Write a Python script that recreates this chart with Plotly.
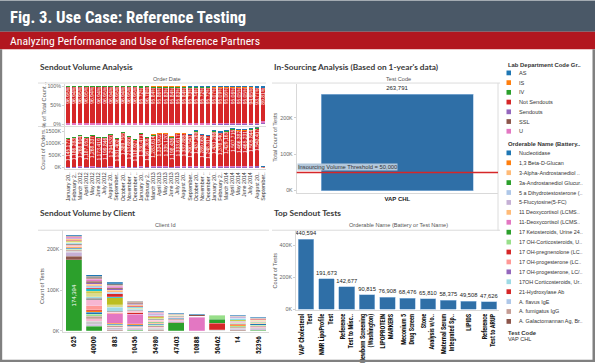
import plotly.graph_objects as go

W, H = 595, 364


def px(x):
    return x / W


def py(y):
    return 1 - y / H


SANS = "Liberation Sans, Arial, sans-serif"
NARROW = "Roboto Condensed, Open Sans Condensed, Liberation Sans Narrow, DejaVu Sans Condensed, sans-serif"
BANNER = "Roboto Condensed, Liberation Sans Narrow, Roboto, sans-serif"
HEAD = "Lato, Open Sans, sans-serif"

# ---------------- Sendout Volume Analysis (by month) ----------------
month_keys = ["2012-01", "2012-02", "2012-03", "2012-04", "2012-05", "2012-06", "2012-07", "2012-08",
              "2012-09", "2012-10", "2012-11", "2012-12", "2013-01", "2013-02", "2013-03", "2013-04",
              "2013-05", "2013-06", "2013-07", "2013-08", "2013-09", "2013-10", "2013-11", "2013-12",
              "2014-01", "2014-02", "2014-03", "2014-04", "2014-05", "2014-06", "2014-07", "2014-08",
              "2014-09"]
month_labels = ["January 20..", "February 2..", "March 2012", "April 2012", "May 2012", "June 2012",
                "July 2012", "August 20..", "September..", "October 20..", "November ..", "December ..",
                "January 20..", "February 2..", "March 2013", "April 2013", "May 2013", "June 2013",
                "July 2013", "August 20..", "September..", "October 20..", "November ..", "December ..",
                "January 20..", "February 2..", "March 2014", "April 2014", "May 2014", "June 2014",
                "July 2014", "August 20..", "September.."]

lab_codes = ["AS", "IS", "IV", "Not Sendouts", "Sendouts", "SSL", "U"]
lab_colors = ["#1f77b4", "#ff7f0e", "#2ca02c", "#d62728", "#9467bd", "#8c564b", "#e377c2"]

orders_sendouts = [21500, 22300, 23800, 22400, 23900, 22100, 22500, 24300, 21300, 26100, 22800, 21000,
                   25300, 22000, 24300, 25300, 25300, 22800, 25300, 25300, 24600, 27300, 24600, 23800,
                   35000, 33700, 35000, 37000, 36000, 36000, 40000, 48000, 1500]
orders_u = [11000, 11400, 12200, 11400, 12200, 11300, 11600, 12500, 10900, 13400, 11700, 10800,
            13000, 11300, 12500, 13000, 13000, 11700, 13000, 13000, 12600, 14000, 12600, 12200,
            14000, 13500, 14000, 14800, 14400, 14400, 14800, 15300, 600]
orders_not_sendouts = [1145177, 1186283, 1268914, 1187052, 1268337, 1173419, 1199846, 1294530, 1131402,
                       1389755, 1213680, 1118927, 1330471, 1167305, 1283614, 1334902, 1335120, 1198436,
                       1333617, 1332885, 1290541, 1437269, 1289063, 1248317, 1431286, 1378540, 1429163,
                       1507715, 1466382, 1465231, 1505844, 1543417, 25108]
orders_ssl = [1200, 1300, 1300, 1200, 1300, 1200, 1200, 1300, 1100, 1400, 1200, 1100, 1400, 1200, 1300,
              1400, 1400, 1200, 1400, 1400, 1300, 1500, 1300, 1300, 1500, 1400, 1500, 1600, 1500, 1500,
              1600, 1600, 50]
orders_iv = [2300, 2400, 2600, 2400, 2600, 2400, 2500, 2700, 2300, 2900, 2500, 2300, 19800, 4300, 14600,
             9000, 8900, 8100, 9000, 9000, 8700, 9700, 8700, 8400, 9700, 9300, 9700, 10200, 10000, 10000,
             10200, 10600, 200]
orders_is = [0, 0, 0, 0, 0, 0, 0, 0, 0, 0, 0, 0, 0, 0, 3000, 9000, 9500, 8200, 9300, 9200, 8900, 10000,
             8900, 8600, 10000, 9500, 10000, 10500, 10300, 10300, 10500, 11000, 200]
orders_as = [0, 0, 0, 0, 0, 0, 0, 0, 0, 0, 0, 0, 0, 0, 0, 0, 0, 0, 0, 0, 1500, 1500, 1500, 1500,
             4000, 3800, 4000, 4200, 4100, 4100, 8000, 16000, 300]

# ---------------- In-Sourcing ----------------
insource_codes = ["VAP CHL"]
insource_counts = [263791]
insource_threshold = 50000

# ---------------- Sendout Volume by Client ----------------
client_ids = ["625", "40000", "883", "10456", "54980", "47403", "10888", "50462", "14", "52396"]
client_seg_names = ["17 Ketosteroids, Urine 24h", "A. Galactomannan Ag", "5-Flucytosine(5-FC)",
                    "Lipid Panel Misc", "Allergen Panel", "A. fumigatus IgG", "17 OH-Corticosteroids",
                    "Nucleotidase", "1,3 Beta-D-Glucan", "11-Deoxycortisol (LCMS)", "21-Hydroxylase Ab",
                    "3a-Androstanediol Glucuronide", "17 OH-Corticosteroids, Urine", "17 OH-progesterone (LC)",
                    "Pain Mgmt Screen", "Vitamin Panel", "17OH Corticosteroids, Urine", "Hormone Panel",
                    "Drug Screen Misc", "Cytogenetics", "17 OH-pregnenolone (LC)", "A. flavus IgE",
                    "11 Deoxycortisol (LCMS)", "17 OH-progesterone, LC/MS", "Serology Misc", "Genetic Misc",
                    "Stone Analysis", "Toxicology Misc", "Reference Misc"]
client_seg_colors = ["#2ca02c", "#8c564b", "#c5b0d5", "#c7c7c7", "#f7b6d2", "#c49c94", "#98df8a",
                     "#1f77b4", "#ff7f0e", "#e377c2", "#d62728", "#2ca02c", "#98df8a", "#ff9896",
                     "#f7b6d2", "#7f7f7f", "#9edae5", "#dbdb8d", "#bcbd22", "#17becf", "#d62728",
                     "#aec7e8", "#ffbb78", "#9467bd", "#8c564b", "#e377c2", "#c49c94", "#7f7f7f", "#1f77b4"]
# thousands of tests, one row per series (bottom to top), one column per client
client_seg_values = [
    [174.394, 11, 0, 2, 0, 20, 0, 0, 0, 2],
    [8, 2, 2, 1, 1, 1, 0, 0, 1, 1],
    [10, 3, 2, 2, 2, 2, 0, 0, 3, 2],
    [2, 7, 3, 2, 3, 2, 0, 1, 2, 3],
    [2, 6, 2, 2, 3, 2, 0, 2, 2, 2],
    [2, 7, 3, 2, 3, 2, 0, 0, 2, 2],
    [2, 5, 2, 2, 2, 1, 0, 0, 2, 2],
    [2, 4, 2, 2, 2, 1, 0, 0, 1, 3],
    [2, 4, 2, 2, 2, 1, 0, 0, 2, 2],
    [1, 0, 24, 24, 0, 0, 33, 0, 0, 0],
    [2, 3, 0, 4, 2, 1, 3, 15, 1, 1],
    [0, 0, 0, 0, 1, 0, 0, 10, 1, 1],
    [0, 0, 0, 0, 1, 0, 0, 10, 1, 0],
    [2, 10, 2, 2, 2, 2, 0, 1, 2, 2],
    [2, 14, 2, 2, 2, 0, 0, 0, 2, 0],
    [2, 4, 2, 2, 2, 1, 0, 0, 1, 2],
    [2, 3, 10, 2, 2, 1, 0, 0, 1, 0],
    [2, 10, 6, 2, 2, 1, 0, 0, 1, 1],
    [2, 4, 17, 2, 2, 1, 0, 0, 2, 1],
    [1, 6, 2, 1, 1, 0, 0, 0, 1, 0],
    [1, 2, 8, 2, 1, 0, 0, 0, 1, 1],
    [2, 5, 4, 2, 2, 1, 0, 0, 2, 1],
    [2, 4, 5, 2, 2, 0, 0, 0, 1, 1],
    [2, 4, 3, 1, 1, 0, 0, 0, 1, 0],
    [1, 4, 3, 2, 1, 1, 3, 0, 1, 1],
    [2, 4, 3, 2, 1, 0, 1, 0, 1, 0],
    [2, 4, 3, 2, 2, 1, 0, 0, 1, 1],
    [1, 4, 3, 2, 2, 0, 0, 0, 1, 0],
    [2, 3, 4, 1, 1, 1, 1, 1, 1, 1],
]

# ---------------- Top Sendout Tests ----------------
top_tests = ["VAP Cholesterol<br>Test", "NMR LipoProfile<br>Test", "Reference<br>Test to Misc..",
             "Newborn Screening<br>(Washington)", "LIPOPROTEIN<br>MARKERS", "Meconium 5<br>Drug Screen",
             "Stone<br>Analysis w/o..", "Maternal Serum<br>Integrated Sp..", "LIPIDS",
             "Reference<br>Test to ARUP"]
top_counts = [440594, 191673, 142677, 90815, 76908, 68476, 65810, 58375, 49508, 47626]

# ---------------- Legend contents ----------------
orderable_legend_names = ["Nucleotidase", "1,3 Beta-D-Glucan", "3-Alpha-Androstanediol ..",
                          "3a-Androstanediol Glucur..", "5 a Dihydrotestosterone (..", "5-Flucytosine(5-FC)",
                          "11 Deoxycortisol (LCMS..", "11-Deoxycortisol (LCMS..", "17 Ketosteroids, Urine 24..",
                          "17 OH-Corticosteroids, U..", "17 OH-pregnenolone (LC..", "17 OH-progesterone (LC..",
                          "17 OH-progesterone, LC/..", "17OH Corticosteroids, Ur..", "21-Hydroxylase Ab",
                          "A. flavus IgE", "A. fumigatus IgG", "A. Galactomannan Ag, Br.."]
orderable_legend_colors = ["#1f77b4", "#ff7f0e", "#ffbb78", "#2ca02c", "#aec7e8", "#c5b0d5", "#ffbb78",
                           "#e377c2", "#2ca02c", "#98df8a", "#d62728", "#ff9896", "#9467bd", "#9edae5",
                           "#d62728", "#aec7e8", "#c49c94", "#8c564b"]

BLUE = "#2f6fa7"

fig = go.Figure()

# ---- Sendout Volume Analysis: stacked by lab department code ----
stack = [("Sendouts", orders_sendouts), ("U", orders_u), ("Not Sendouts", orders_not_sendouts),
         ("SSL", orders_ssl), ("IV", orders_iv), ("IS", orders_is), ("AS", orders_as)]
color_of = dict(zip(lab_codes, lab_colors))
totals = [sum(v) for v in zip(*[s[1] for s in stack])]
for name, vals in stack:
    pct = [v / t for v, t in zip(vals, totals)]
    is_main = name == "Not Sendouts"
    fig.add_trace(go.Bar(
        x=month_keys, y=pct, name=name, xaxis="x", yaxis="y", width=0.74,
        marker=dict(color=color_of[name], line=dict(width=0)),
        text=[f"{p * 100:.2f}%" for p in pct] if is_main else None,
        textposition="inside" if is_main else "none", textangle=-90, insidetextanchor="end",
        constraintext="none", insidetextfont=dict(family=SANS, size=5, color="white"),
        showlegend=False))
    fig.add_trace(go.Bar(
        x=month_keys, y=vals, name=name, xaxis="x2", yaxis="y2", width=0.74,
        marker=dict(color=color_of[name], line=dict(width=0)),
        text=[f"{v:,}" for v in vals] if is_main else None,
        textposition="inside" if is_main else "none", textangle=-90, insidetextanchor="end",
        constraintext="none", insidetextfont=dict(family=SANS, size=5, color="white"),
        showlegend=False))

# ---- In-Sourcing ----
fig.add_trace(go.Bar(
    x=insource_codes, y=insource_counts, xaxis="x3", yaxis="y3", width=0.755,
    marker=dict(color=BLUE, line=dict(width=0.6, color="#9cc0e2")),
    text=[f"{v:,}" for v in insource_counts], textposition="outside", cliponaxis=False,
    constraintext="none", outsidetextfont=dict(family=SANS, size=6, color="#222"), showlegend=False))

# ---- Sendout Volume by Client ----
for i, (nm, col, vals) in enumerate(zip(client_seg_names, client_seg_colors, client_seg_values)):
    yv = [v * 1000 for v in vals]
    txt = None
    if i == 0:
        txt = [f"{round(yv[0]):,}"] + [""] * (len(yv) - 1)
    fig.add_trace(go.Bar(
        x=client_ids, y=yv, name=nm, xaxis="x4", yaxis="y4", width=0.78,
        marker=dict(color=col, line=dict(width=0.3, color="rgba(255,255,255,0.7)")),
        text=txt, textposition="inside" if txt else "none", textangle=-90,
        insidetextanchor="middle", constraintext="none",
        insidetextfont=dict(family=SANS, size=6, color="white"), showlegend=False))

# ---- Top Sendout Tests ----
fig.add_trace(go.Bar(
    x=top_tests, y=top_counts, xaxis="x5", yaxis="y5", width=0.77,
    marker=dict(color=BLUE, line=dict(width=0.6, color="#9cc0e2")),
    text=[f"{v:,}" for v in top_counts], textposition="outside", cliponaxis=False,
    constraintext="none", outsidetextfont=dict(family=SANS, size=5.8, color="#222"), showlegend=False))

tickfont = dict(family=SANS, size=5.3, color="#666")
axline = dict(showline=True, linecolor="#d9d9d9", linewidth=1, showgrid=False, zeroline=False)
yax = dict(ticks="outside", ticklen=2, tickcolor="#cfcfcf", tickfont=tickfont, **axline)

shapes = []
annotations = []

# header bands and frame
shapes += [
    dict(type="rect", xref="paper", yref="paper", x0=0, x1=1, y0=py(32), y1=py(0.5),
         fillcolor="#4a5867", line=dict(width=0), layer="below"),
    dict(type="rect", xref="paper", yref="paper", x0=0, x1=1, y0=py(49.5), y1=py(32),
         fillcolor="#b2161f", line=dict(width=0), layer="below"),
    dict(type="rect", xref="paper", yref="paper", x0=0, x1=px(2.2), y0=0, y1=py(49.5),
         fillcolor="#808080", line=dict(width=0)),
    dict(type="rect", xref="paper", yref="paper", x0=px(592.5), x1=1, y0=0, y1=py(49.5),
         fillcolor="#808080", line=dict(width=0)),
    dict(type="rect", xref="paper", yref="paper", x0=0, x1=1, y0=0, y1=py(361.8),
         fillcolor="#808080", line=dict(width=0)),
]
annotations += [
    dict(text="<b>Fig. 3. Use Case: Reference Testing</b>", x=px(8), y=py(17.5), xref="paper", yref="paper",
         xanchor="left", yanchor="middle", showarrow=False,
         font=dict(family=BANNER, size=16.6, color="white")),
    dict(text="Analyzing Performance and Use of Reference Partners", x=px(8), y=py(41), xref="paper",
         yref="paper", xanchor="left", yanchor="middle", showarrow=False,
         font=dict(family=BANNER, size=11.7, color="white")),
]

# section titles
for t, x, y in [("Sendout Volume Analysis", 38, 67.5), ("In-Sourcing Analysis (Based on 1-year's data)", 271.5, 67.5),
                ("Sendout Volume by Client", 38, 214.5), ("Top Sendout Tests", 271.5, 214.5)]:
    annotations.append(dict(text=f"<b>{t}</b>", x=px(x), y=py(y), xref="paper", yref="paper",
                            xanchor="left", yanchor="middle", showarrow=False,
                            font=dict(family=HEAD, size=8.3, color="#3a3a3a")))

# column headers and axis titles
small = dict(family=SANS, size=5.6, color="#555")
for t, x, y in [("Order Date", 167, 79), ("Test Code", 398, 79), ("Client Id", 165, 226.5),
                ("Orderable Name (Battery or Test Name)", 398, 226.5)]:
    annotations.append(dict(text=t, x=px(x), y=py(y), xref="paper", yref="paper", showarrow=False,
                            xanchor="center", yanchor="middle", font=small))
for t, x, y in [("% of Total Count ..", 43.5, 105.5), ("Count of Orders..", 43.5, 149),
                ("Total Count of Tests", 275.5, 138), ("Count of Tests", 42.5, 288),
                ("Count of Tests", 275, 272)]:
    annotations.append(dict(text=t, x=px(x), y=py(y), xref="paper", yref="paper", showarrow=False,
                            textangle=-90, xanchor="center", yanchor="middle", font=small))

# pane divider lines
for y0, xa, xb in [(83.5, 38, 266), (127.2, 38, 266), (83.5, 272, 500), (231.5, 38, 269), (231.5, 272, 500)]:
    shapes.append(dict(type="line", xref="paper", yref="paper", x0=px(xa), x1=px(xb), y0=py(y0), y1=py(y0),
                       line=dict(color="#dcdcdc", width=1)))
shapes.append(dict(type="line", xref="paper", yref="paper", x0=px(498), x1=px(498), y0=py(83.5), y1=py(232),
                   line=dict(color="#dcdcdc", width=1)))

# threshold
shapes.append(dict(type="line", xref="x3 domain", yref="y3", x0=0, x1=1, y0=insource_threshold,
                   y1=insource_threshold, line=dict(color="#d62728", width=1.5)))
annotations.append(dict(text=f"Insourcing Volume Threshold = {insource_threshold:,}", xref="x3 domain", yref="y3",
                        x=0.003, y=insource_threshold, xanchor="left", yanchor="bottom", showarrow=False,
                        bgcolor="#b3c8dc", borderpad=0, yshift=1,
                        font=dict(family=SANS, size=5.8, color="#333")))

# legend panel
annotations.append(dict(text="<b>Lab Department Code Gr..</b>", x=px(506), y=py(65), xref="paper", yref="paper",
                        xanchor="left", yanchor="middle", showarrow=False,
                        font=dict(family=SANS, size=5.9, color="#333")))
for i, (nm, col) in enumerate(zip(lab_codes, lab_colors)):
    yc = 73.3 + i * 9.78
    shapes.append(dict(type="rect", xref="paper", yref="paper", x0=px(506.5), x1=px(511), y0=py(yc + 2.4),
                       y1=py(yc - 2.4), fillcolor=col, line=dict(width=0)))
    annotations.append(dict(text=nm, x=px(516.5), y=py(yc), xref="paper", yref="paper", xanchor="left",
                            yanchor="middle", showarrow=False, font=dict(family=SANS, size=5.6, color="#333")))
annotations.append(dict(text="<b>Orderable Name (Battery..</b>", x=px(506), y=py(145), xref="paper", yref="paper",
                        xanchor="left", yanchor="middle", showarrow=False,
                        font=dict(family=SANS, size=5.9, color="#333")))
for i, (nm, col) in enumerate(zip(orderable_legend_names, orderable_legend_colors)):
    yc = 153.7 + i * 9.97
    shapes.append(dict(type="rect", xref="paper", yref="paper", x0=px(506.5), x1=px(511), y0=py(yc + 2.4),
                       y1=py(yc - 2.4), fillcolor=col, line=dict(width=0)))
    annotations.append(dict(text=nm, x=px(516.5), y=py(yc), xref="paper", yref="paper", xanchor="left",
                            yanchor="middle", showarrow=False, font=dict(family=SANS, size=5.4, color="#333")))
annotations.append(dict(text="<b>Test Code</b>", x=px(506), y=py(334.5), xref="paper", yref="paper",
                        xanchor="left", yanchor="middle", showarrow=False,
                        font=dict(family=SANS, size=5.9, color="#333")))
annotations.append(dict(text="VAP CHL", x=px(506), y=py(340.5), xref="paper", yref="paper",
                        xanchor="left", yanchor="middle", showarrow=False,
                        font=dict(family=SANS, size=5.6, color="#333")))

fig.update_layout(
    width=W, height=H, autosize=False, margin=dict(l=0, r=0, t=0, b=0),
    paper_bgcolor="white", plot_bgcolor="white", barmode="stack", showlegend=False,
    font=dict(family=SANS),
    xaxis=dict(domain=[px(65), px(266)], anchor="y", type="category", showticklabels=False, ticks="",
               categoryorder="array", categoryarray=month_keys, **axline),
    yaxis=dict(domain=[py(127), py(84)], anchor="x", range=[-0.052, 1.07], tickvals=[0, 0.5, 1],
               ticktext=["0%", "50%", "100%"], **yax),
    xaxis2=dict(domain=[px(65), px(266)], anchor="y2", type="category", tickangle=-90,
                categoryorder="array", categoryarray=month_keys, tickvals=month_keys, ticktext=month_labels,
                ticks="", tickfont=dict(family=SANS, size=5.3, color="#333"), **axline),
    yaxis2=dict(domain=[py(170), py(128)], anchor="x2", range=[-70000, 1653000],
                tickvals=[0, 500000, 1000000, 1500000], ticktext=["0K", "500K", "1000K", "1500K"], **yax),
    xaxis3=dict(domain=[px(296.7), px(498)], anchor="y3", type="category", ticks="",
                tickfont=dict(family=SANS, size=6, color="#222", weight="bold"), **axline),
    yaxis3=dict(domain=[py(194), py(84)], anchor="x3", range=[-6300, 293500],
                tickvals=[0, 100000, 200000], ticktext=["0K", "100K", "200K"], **yax),
    xaxis4=dict(domain=[px(63.4), px(268.6)], anchor="y4", type="category", tickangle=-90, ticks="",
                tickfont=dict(family=NARROW, size=7, color="#111", weight="bold"), **axline),
    yaxis4=dict(domain=[py(334.3), py(231.7)], anchor="x4", range=[-4000, 246000],
                tickvals=[0, 100000, 200000], ticktext=["0K", "100K", "200K"], **yax),
    xaxis5=dict(domain=[px(296), px(499)], anchor="y5", type="category", tickangle=-90, ticks="",
                tickfont=dict(family=NARROW, size=6.3, color="#111", weight="bold"), **axline),
    yaxis5=dict(domain=[py(312), py(231.7)], anchor="x5", range=[-6000, 495000],
                tickvals=[0, 200000, 400000], ticktext=["0K", "200K", "400K"], **yax),
    shapes=shapes, annotations=annotations,
)

fig.write_html("out.html", config={"displayModeBar": False},
               post_script="document.body.style.margin='0';document.body.style.overflow='hidden';")
